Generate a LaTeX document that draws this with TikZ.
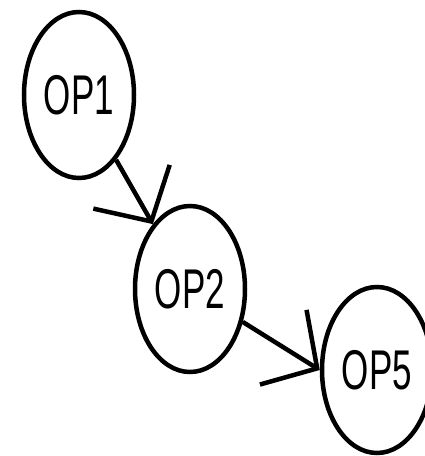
\documentclass[tikz,border=0pt]{standalone}
\usepackage{fontspec}
\setmainfont{Liberation Sans}
\usepackage{graphicx}
\usetikzlibrary{calc, shapes.geometric, arrows.meta}

\begin{document}
\begin{tikzpicture}[x=1pt, y=1pt]
	\newcommand{\myfontops}[1]{
		\scalebox{1}[1.6]{\fontsize{35}{40}\selectfont{#1}}
	}
	\tikzset{
		opnode/.style={ellipse, draw, line width=4.5pt, minimum width=110pt, minimum height=166pt, inner sep=0pt},
		oparrow/.style={line width=4.5pt, -{Straight Barb[length=40pt, width=88pt, line width=4.5pt]}}
	}
	%Page frame
	\useasboundingbox (0,0) rectangle (424,456);
	%The operations
	\coordinate (center1) at (79,361);
	\coordinate (center2) at (190,167);
	\coordinate (center5) at (377,86);
	\node [opnode] (op1) at (center1) {\myfontops{OP1}};
	\node [opnode] (op2) at (center2) {\myfontops{OP2}};
	\node [opnode] (op5) at (center5) {\myfontops{OP5}};
	%Arrows between the operations
	\draw [oparrow] (op1) -- (op2);
	\draw [oparrow] (op2) -- (op5.west);
\end{tikzpicture}
\end{document}
